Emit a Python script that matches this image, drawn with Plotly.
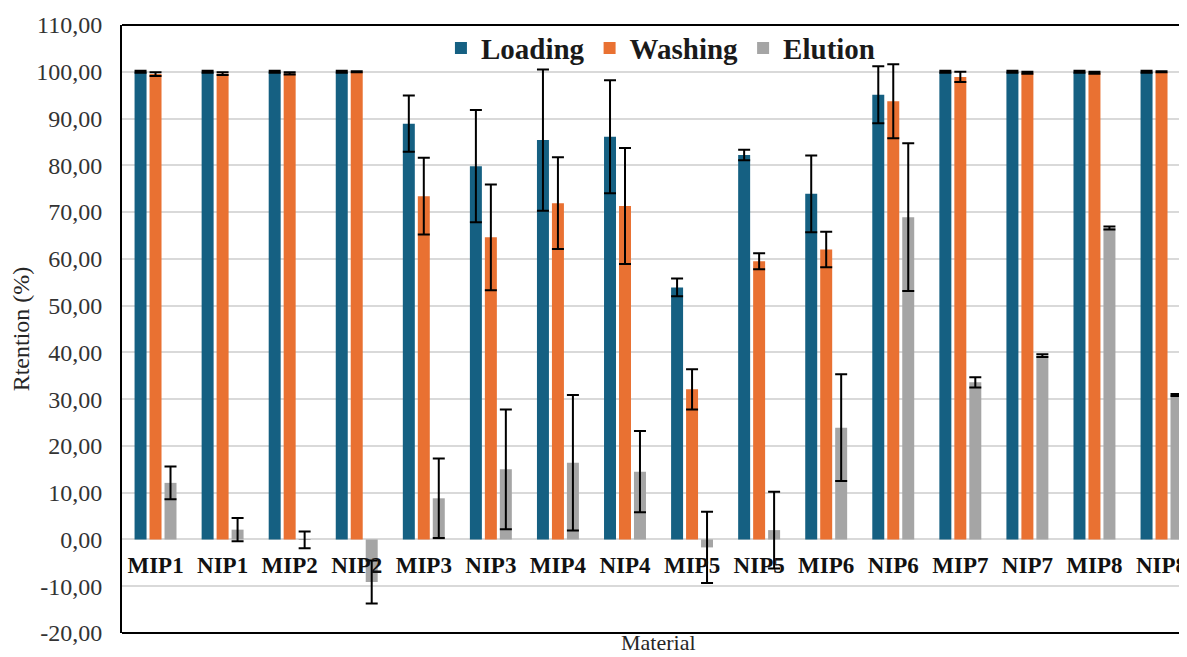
import plotly.graph_objects as go

categories = ["MIP1", "NIP1", "MIP2", "NIP2", "MIP3", "NIP3", "MIP4", "NIP4",
              "MIP5", "NIP5", "MIP6", "NIP6", "MIP7", "NIP7", "MIP8", "NIP8"]

loading = [100, 100, 100, 100, 88.9, 79.8, 85.4, 86.1, 53.9, 82.2, 73.9, 95.1, 100, 100, 100, 100]
loading_err = [0.2, 0.2, 0.2, 0.2, 6.0, 12.0, 15.1, 12.1, 1.9, 1.1, 8.2, 6.1, 0.2, 0.2, 0.2, 0.2]

washing = [99.5, 99.6, 99.65, 100, 73.4, 64.6, 71.9, 71.3, 32.1, 59.5, 62.0, 93.7, 98.9, 99.8, 99.8, 100]
washing_err = [0.4, 0.3, 0.25, 0.1, 8.2, 11.3, 9.8, 12.4, 4.3, 1.7, 3.8, 7.9, 1.1, 0.2, 0.2, 0.1]

elution = [12.1, 2.1, -0.1, -9.1, 8.8, 15.0, 16.4, 14.5, -1.7, 2.0, 23.9, 68.9, 33.6, 39.3, 66.6, 30.9]
elution_err = [3.5, 2.5, 1.8, 4.6, 8.5, 12.8, 14.5, 8.7, 7.6, 8.2, 11.4, 15.8, 1.1, 0.3, 0.3, 0.2]

y_tick_values = [-20, -10, 0, 10, 20, 30, 40, 50, 60, 70, 80, 90, 100, 110]
y_tick_labels = ["-20,00", "-10,00", "0,00", "10,00", "20,00", "30,00", "40,00",
                 "50,00", "60,00", "70,00", "80,00", "90,00", "100,00", "110,00"]

series = [
    ("Loading", loading, loading_err, "#156082"),
    ("Washing", washing, washing_err, "#E97132"),
    ("Elution", elution, elution_err, "#A5A5A5"),
]

FONT = "Liberation Serif, Times New Roman, serif"

fig = go.Figure()
for name, vals, errs, color in series:
    fig.add_trace(go.Bar(
        name=name, x=categories, y=vals,
        marker=dict(color=color, line=dict(width=0)),
        error_y=dict(type="data", array=errs, visible=True,
                     color="black", thickness=2, width=6),
    ))

zero_pos = (0 - (-20)) / (110 - (-20))

# The page body has an 8px default margin, so the figure is sized to fit.
fig.update_layout(
    width=1179, height=649,
    margin=dict(l=114, r=0, t=17, b=24),
    plot_bgcolor="white", paper_bgcolor="white",
    barmode="group", bargap=0.33, bargroupgap=0.2,
    font=dict(family=FONT, color="#262626"),
    legend=dict(orientation="h", x=0.507, xanchor="center", y=0.962, yanchor="middle",
                bgcolor="rgba(0,0,0,0)",
                font=dict(family=FONT, size=29, color="#1a1a1a", weight="bold")),
    xaxis=dict(
        type="category", categoryorder="array", categoryarray=categories,
        range=[-0.5, 15.35],
        anchor="free", position=zero_pos,
        showline=False, showgrid=False, zeroline=False, ticks="",
        tickfont=dict(family=FONT, size=23, color="#111111", weight="bold"),
        ticklabelstandoff=10,
    ),
    yaxis=dict(
        range=[-20, 110], tickmode="array", tickvals=y_tick_values, ticktext=y_tick_labels,
        showgrid=True, gridcolor="#D9D9D9", gridwidth=1.5,
        zeroline=True, zerolinecolor="#D9D9D9", zerolinewidth=1.5,
        showline=True, linecolor="black", linewidth=2,
        ticks="", ticklabelstandoff=13,
        tickfont=dict(family=FONT, size=24, color="#333333"),
        title=dict(text="Rtention (%)", font=dict(family=FONT, size=24, color="#262626"), standoff=2),
    ),
    shapes=[
        dict(type="line", xref="paper", yref="paper", x0=0, x1=1, y0=1, y1=1,
             line=dict(color="black", width=2)),
        dict(type="line", xref="paper", yref="paper", x0=0, x1=1, y0=0, y1=0,
             line=dict(color="black", width=2)),
    ],
    annotations=[
        dict(text="Material", xref="paper", yref="paper", x=0.505, y=0, yshift=-9,
             xanchor="center", yanchor="middle", showarrow=False, borderpad=0,
             font=dict(family=FONT, size=22, color="#262626")),
    ],
)

fig.write_html("out.html")
